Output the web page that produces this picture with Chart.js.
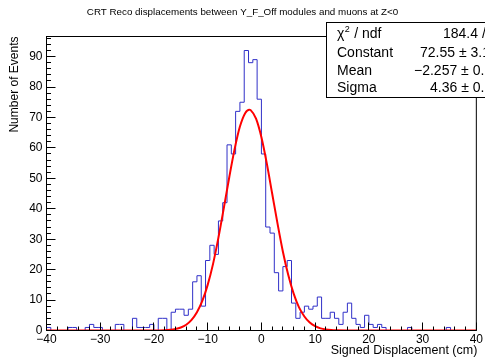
<!DOCTYPE html>
<html>
<head>
<meta charset="utf-8">
<script src="https://cdn.jsdelivr.net/npm/chart.js@4.4.0/dist/chart.umd.min.js"></script>
<style>
html, body { margin: 0; padding: 0; background: #fff; }
#wrap { width: 485px; height: 357px; }
</style>
</head>
<body>
<div id="wrap"><canvas id="c" width="485" height="357"></canvas></div>
<script>
// histogram: 100 bins of 0.8 cm from -40 to 40
const binLow = -40;
const binWidth = 0.8;
const binCounts = [
    0, 1, 0, 0, 0, 0, 1, 1, 0, 0,
    1, 2, 1, 1, 0, 0, 0, 2, 2, 0,
    0, 4, 1, 1, 1, 2, 0, 4, 4, 0,
    6, 7, 7, 5, 7, 16, 18, 8, 23, 28,
    25, 36, 42, 61, 58, 72, 75, 92, 88, 89,
    76, 58, 34, 32, 19, 13, 21, 23, 9, 4,
    6, 8, 7, 8, 11, 4, 4, 6, 4, 2,
    6, 9, 4, 2, 1, 5, 2, 1, 2, 1,
    0, 0, 0, 0, 0, 1, 0, 0, 0, 0,
    0, 0, 0, 0, 1, 0, 0, 0, 0, 0
];

// gaussian fit curve
const fitX = [-40, -30, -24, -20, -18, -17, -16, -15, -14, -13, -12, -11, -10, -9, -8, -7, -6, -5, -4, -3, -2.26, -2, -1, 0, 1, 2, 3, 4, 5, 6, 7, 8, 9, 10, 11, 12, 13, 14, 16, 20, 30, 40];
const fitY = [0, 0, 0, 0.02, 0.11, 0.24, 0.5, 1.0, 1.9, 3.5, 6.0, 9.7, 15.0, 21.9, 30.5, 40.2, 50.2, 59.5, 67.0, 71.5, 72.55, 72.4, 69.6, 63.5, 54.9, 45.0, 35.1, 25.9, 18.2, 12.1, 7.6, 4.6, 2.6, 1.4, 0.71, 0.35, 0.16, 0.07, 0.01, 0, 0, 0];

const xTicks = [-40, -30, -20, -10, 0, 10, 20, 30, 40];
const yTicks = [0, 10, 20, 30, 40, 50, 60, 70, 80, 90];
const yMax = 96.6;

const titleText = 'CRT Reco displacements between Y_F_Off modules and muons at Z<0';
const xTitle = 'Signed Displacement (cm)';
const yTitle = 'Number of Events';
const statLabels = ['χ', 'Constant', 'Mean', 'Sigma'];
const statValues = ['184.4 / 65', '72.55 ± 3.12', '\u22122.257 ± 0.175', '4.36 ± 0.14'];

const fontFamily = '"Liberation Sans", Arial, Helvetica, sans-serif';

const histPoints = binCounts.map((v, i) => ({ x: binLow + i * binWidth, y: v }));
histPoints.push({ x: binLow + binCounts.length * binWidth, y: binCounts[binCounts.length - 1] });
const fitPoints = fitX.map((v, i) => ({ x: v, y: fitY[i] }));

const rootDecor = {
    id: 'rootDecor',
    afterDatasetsDraw(chart) {
        const { ctx, chartArea: a, scales: { x, y } } = chart;
        ctx.save();
        ctx.strokeStyle = '#000';
        ctx.lineWidth = 1;
        ctx.strokeRect(a.left, a.top, a.right - a.left, a.bottom - a.top);

        ctx.beginPath();
        for (let v = -40; v <= 40; v += 2) {
            const px = Math.floor(x.getPixelForValue(v)) + 0.5;
            const len = v % 10 === 0 ? 8 : 4;
            ctx.moveTo(px, a.bottom);
            ctx.lineTo(px, a.bottom - len);
        }
        for (let v = 0; v <= yMax; v += 2) {
            const py = Math.floor(y.getPixelForValue(v)) + 0.5;
            const len = v % 10 === 0 ? 9 : 4.5;
            ctx.moveTo(a.left, py);
            ctx.lineTo(a.left + len, py);
        }
        ctx.stroke();
        ctx.restore();
    },
    afterDraw(chart) {
        const { ctx, chartArea: a } = chart;
        ctx.save();
        ctx.fillStyle = '#000';

        ctx.font = '9.8px ' + fontFamily;
        ctx.textAlign = 'center';
        ctx.textBaseline = 'middle';
        ctx.fillText(titleText, 242.5, 12.5);

        ctx.font = '12.5px ' + fontFamily;
        ctx.textAlign = 'right';
        ctx.textBaseline = 'middle';
        ctx.fillText(xTitle, a.right + 1, 351);

        ctx.save();
        ctx.translate(15, a.top);
        ctx.rotate(-Math.PI / 2);
        ctx.font = '12px ' + fontFamily;
        ctx.textAlign = 'right';
        ctx.fillText(yTitle, 0, 0);
        ctx.restore();

        // stats box
        ctx.fillStyle = '#fff';
        ctx.fillRect(326.5, 22.5, 170, 75);
        ctx.strokeStyle = '#000';
        ctx.lineWidth = 1;
        ctx.strokeRect(326.5, 22.5, 170, 75);

        ctx.fillStyle = '#000';
        ctx.textAlign = 'left';
        ctx.textBaseline = 'alphabetic';
        ctx.font = '14px ' + fontFamily;
        const rows = [37.5, 56.5, 74.5, 92];
        const valX = [443, 420, 414, 430];
        statLabels.forEach((lab, i) => {
            ctx.fillText(lab, 337, rows[i]);
            if (i === 0) {
                const w = ctx.measureText(lab).width;
                ctx.font = '9px ' + fontFamily;
                ctx.fillText('2', 337 + w + 0.5, rows[i] - 6);
                ctx.font = '14px ' + fontFamily;
                ctx.fillText(' / ndf', 337 + w + 6, rows[i]);
            }
            ctx.fillText(statValues[i], valX[i], rows[i]);
        });
        ctx.restore();
    }
};

new Chart(document.getElementById('c'), {
    type: 'line',
    data: {
        datasets: [
            {
                label: 'fit',
                data: fitPoints,
                borderColor: '#ff0000',
                borderWidth: 2,
                pointRadius: 0,
                cubicInterpolationMode: 'monotone',
                fill: false,
                order: 0
            },
            {
                label: 'hist',
                data: histPoints,
                borderColor: '#3030c8',
                borderWidth: 1,
                pointRadius: 0,
                stepped: 'after',
                fill: false,
                order: 1
            }
        ]
    },
    options: {
        responsive: false,
        animation: false,
        layout: { padding: { top: 36.5, right: 8.5, bottom: 0, left: 0 } },
        plugins: { legend: { display: false }, tooltip: { enabled: false }, title: { display: false } },
        scales: {
            x: {
                type: 'linear',
                min: -40,
                max: 40,
                afterBuildTicks: s => { s.ticks = xTicks.map(v => ({ value: v })); },
                afterFit: s => { s.height = 26.5; },
                grid: { display: false, drawTicks: false },
                border: { display: false },
                ticks: {
                    autoSkip: false,
                    maxRotation: 0,
                    padding: 2,
                    color: '#000',
                    font: { family: fontFamily, size: 12 },
                    callback: v => String(v).replace('-', '\u2212')
                }
            },
            y: {
                type: 'linear',
                min: 0,
                max: yMax,
                afterBuildTicks: s => { s.ticks = yTicks.map(v => ({ value: v })); },
                afterFit: s => { s.width = 46.5; },
                grid: { display: false, drawTicks: false },
                border: { display: false },
                ticks: {
                    autoSkip: false,
                    padding: 4,
                    color: '#000',
                    font: { family: fontFamily, size: 12 }
                }
            }
        }
    },
    plugins: [rootDecor]
});
</script>
</body>
</html>
